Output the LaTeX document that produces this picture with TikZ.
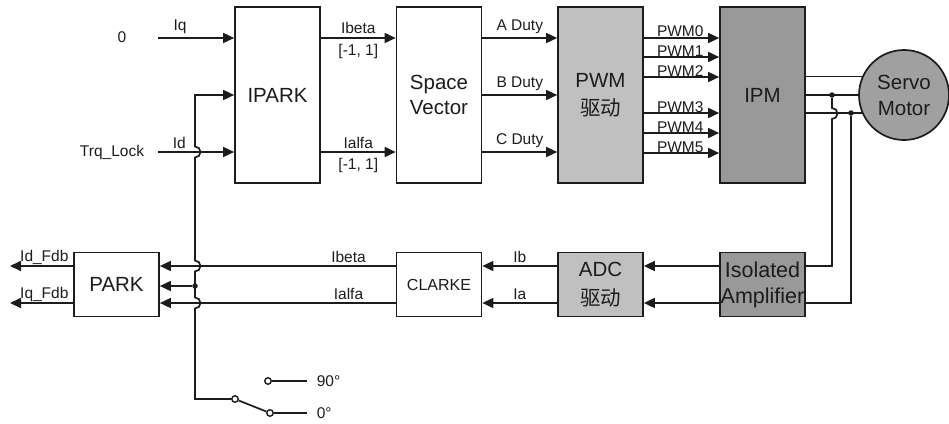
\documentclass[tikz,border=0pt]{standalone}
\usepackage{fontspec}
\setmainfont{Liberation Sans}
\newfontfamily\cjkfont{Noto Sans CJK SC}
\usetikzlibrary{arrows.meta,positioning,calc}
\definecolor{Ink}{HTML}{1C1C1C}
\definecolor{PaleGray}{HTML}{C0C0C0}
\definecolor{MidGray}{HTML}{999999}
\definecolor{MotorGray}{HTML}{A0A0A0}
\tikzset{
  every node/.append style={text=Ink},
  box/.style={draw=Ink, line width=1.7pt, fill=white, align=center,
              minimum width=85pt, minimum height=176pt, inner sep=0pt,
              font=\fontsize{20.5}{25}\selectfont},
  lowbox/.style={box, minimum height=64pt},
  pale/.style={fill=PaleGray},
  dark/.style={fill=MidGray},
  arrow/.style={-{Triangle[length=11pt,width=10pt]}, line width=1.7pt, draw=Ink},
  wire/.style={line width=1.7pt, draw=Ink},
  tag/.style={font=\fontsize{15.5}{17}\selectfont, inner sep=1pt},
  dot/.style={circle, fill=Ink, minimum size=5.5pt, inner sep=0pt},
  contact/.style={circle, draw=Ink, line width=1.4pt, fill=white,
                  minimum size=6.5pt, inner sep=0pt},
}

\begin{document}
\begin{tikzpicture}[x=1pt, y=-1pt]
  \useasboundingbox (0,0) rectangle (949,423);

  \node[box] (ipark) at (277.5,95) {IPARK};
  \node[box] (sv) at (439,95) {Space\\Vector};
  \node[box, pale, font=\fontsize{20.5}{28}\selectfont] (pwm) at (600.5,95) {PWM\\{\cjkfont 驱动}};
  \node[box, dark] (ipm) at (762.5,95) {IPM};
  \node[circle, draw=Ink, line width=1.7pt, fill=MotorGray, minimum size=90pt,
        inner sep=0pt, align=center, font=\fontsize{20.5}{26}\selectfont]
        (motor) at (904,95) {Servo\\Motor};

  \node[lowbox] (park) at (116.5,284.5) {PARK};
  \node[lowbox, font=\fontsize{16}{18}\selectfont] (clarke) at (439,284.5) {CLARKE};
  \node[lowbox, pale, font=\fontsize{20.5}{29}\selectfont] (adc) at (600.5,284.5) {ADC\\{\cjkfont 驱动}};
  \node[lowbox, dark, font=\fontsize{21.5}{26}\selectfont] (iso) at (762.5,284.5) {Isolated\\Amplifier};

  \node[tag] (zero) at (122,37) {0};
  \node[tag] (trq) at (112,152) {Trq\_Lock};
  \coordinate (iqin) at (158,38);
  \coordinate (idin) at (158,152);
  \draw[arrow] (iqin) -- (iqin -| ipark.west) node[tag, pos=0.29, above=2pt] (iqlbl) {Iq};
  \draw[arrow] (idin) -- (idin -| ipark.west) node[tag, pos=0.28, above=2pt] (idlbl) {Id};

  \draw[arrow] ([yshift=57pt]ipark.east) -- ([yshift=57pt]sv.west)
    node[tag, midway, above=2pt] (ibeta) {Ibeta} node[tag, midway, below=4pt] (rngb) {[-1, 1]};
  \draw[arrow] ([yshift=-57pt]ipark.east) -- ([yshift=-57pt]sv.west)
    node[tag, midway, above=2pt] (ialfa) {Ialfa} node[tag, midway, below=4pt] (rnga) {[-1, 1]};

  \foreach \dy/\txt in {57/A, 0/B, -57/C}
    \draw[arrow] ([yshift=\dy pt]sv.east) -- ([yshift=\dy pt]pwm.west)
      node[tag, midway, above=2pt] (duty\txt) {\txt\ Duty};

  \foreach \dy/\k in {57/0, 38/1, 18/2, -18/3, -38/4, -58/5}
    \draw[arrow] ([yshift=\dy pt]pwm.east) -- ([yshift=\dy pt]ipm.west)
      node[tag, pos=0.15, above=-1pt, anchor=south west] (pwm\k) {PWM\k};

  \draw[wire] (ipm.east |- motor.156.4) -- (motor.156.4);
  \draw[wire] (ipm.east) -- (motor.west);
  \draw[wire] (ipm.east |- motor.203.6) -- (motor.203.6);

  \node[dot] (tapv) at (832,95) {};
  \node[dot] (tapw) at (851,113) {};
  \coordinate (isohi) at ([yshift=18.5pt]iso.east);
  \coordinate (isolo) at ([yshift=-18.5pt]iso.east);
  \draw[wire] (tapv) -- ++(0,13) arc[start angle=90, end angle=-90, radius=5.5pt]
    -- (tapv |- isohi) -- (isohi);
  \draw[wire] (tapw) -- (tapw |- isolo) -- (isolo);

  \draw[arrow] ([yshift=18.5pt]iso.west) -- ([yshift=18.5pt]adc.east);
  \draw[arrow] ([yshift=-18.5pt]iso.west) -- ([yshift=-18.5pt]adc.east);
  \draw[arrow] ([yshift=18.5pt]adc.west) -- ([yshift=18.5pt]clarke.east)
    node[tag, midway, above=2pt] (iblbl) {Ib};
  \draw[arrow] ([yshift=-18.5pt]adc.west) -- ([yshift=-18.5pt]clarke.east)
    node[tag, midway, above=2pt] (ialbl) {Ia};
  \draw[arrow] ([yshift=18.5pt]clarke.west) -- ([yshift=18.5pt]park.east)
    node[tag, pos=0.2, above=2pt] (fbeta) {Ibeta};
  \draw[arrow] ([yshift=-18.5pt]clarke.west) -- ([yshift=-18.5pt]park.east)
    node[tag, pos=0.2, above=2pt] (falfa) {Ialfa};

  \coordinate (idfdb) at (10,266);
  \coordinate (iqfdb) at (10,303);
  \draw[arrow] (park.west |- idfdb) -- (idfdb);
  \draw[arrow] (park.west |- iqfdb) -- (iqfdb);
  \node[tag, anchor=west] (idf) at (19,257) {Id\_Fdb};
  \node[tag, anchor=west] (iqf) at (19,294) {Iq\_Fdb};

  \node[contact] (pivot) at (235,399) {};
  \node[contact] (c90) at (268,381) {};
  \node[contact] (c0) at (270,413) {};
  \coordinate (bend) at (195,399);
  \node[dot] (tap) at (195,286) {};
  \draw[arrow] (pivot) -- (bend) -- ++(0,-90.5)
    arc[start angle=-90, end angle=90, radius=5.5pt] -- ++(0,-26)
    arc[start angle=-90, end angle=90, radius=5.5pt] -- ++(0,-103)
    arc[start angle=-90, end angle=90, radius=5.5pt]
    -- (bend |- ipark.west) -- (ipark.west);
  \draw[arrow] (tap) -- (tap -| park.east);
  \draw[wire] (pivot) -- (c0);
  \draw[wire] (c90) -- ++(39,0) node[tag, right=8pt] (deg90) {90°};
  \draw[wire] (c0) -- ++(37,0) node[tag, right=8pt] (deg0) {0°};
\end{tikzpicture}
\end{document}
